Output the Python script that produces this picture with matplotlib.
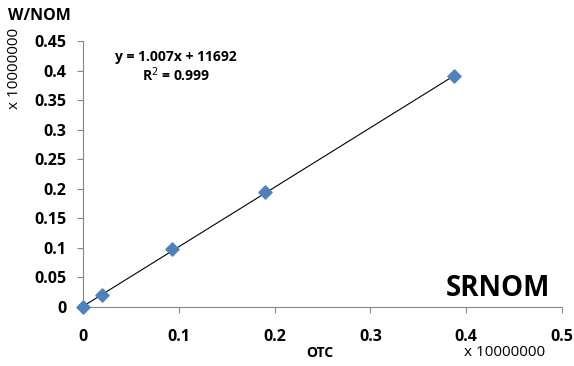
import matplotlib.pyplot as plt
import numpy as np

# OTC vs W/NOM (display units of 1e7)
otc = [0.0, 0.02, 0.093, 0.19, 0.387]
wnom = [0.0, 0.020, 0.098, 0.195, 0.391]
slope = 1.007
intercept = 11692 / 1e7
r2 = 0.999
xticks = [0, 0.1, 0.2, 0.3, 0.4, 0.5]
yticks = [0, 0.05, 0.1, 0.15, 0.2, 0.25, 0.3, 0.35, 0.4, 0.45]

plt.rcParams['font.family'] = ['Open Sans', 'DejaVu Sans']

fig = plt.figure(figsize=(5.74, 3.66), dpi=100)
ax = fig.add_axes([0.1446, 0.1612, 0.8344, 0.7268])

# linear trendline
xl = np.array([min(otc), max(otc)])
ax.plot(xl, slope * xl + intercept, color='black', lw=0.8, zorder=2)
ax.scatter(otc, wnom, marker='D', s=45, color='#4F81BD', edgecolors='#4F81BD',
           zorder=3, clip_on=False)

ax.set_xlim(0, 0.5)
ax.set_ylim(0, 0.45)
ax.set_xticks(xticks)
ax.set_yticks(yticks)
ax.set_xticklabels([f'{t:g}' for t in xticks])
ax.set_yticklabels([f'{t:g}' for t in yticks])
for s in ['top', 'right']:
    ax.spines[s].set_visible(False)
for s in ['left', 'bottom']:
    ax.spines[s].set_color('#868686')
    ax.spines[s].set_linewidth(0.8)
ax.tick_params(direction='out', length=4, color='#868686', labelsize=11.5, width=0.8)
for lab in ax.get_xticklabels() + ax.get_yticklabels():
    lab.set_fontweight('bold')
ax.tick_params(axis='x', pad=12)
ax.tick_params(axis='y', pad=8)

fig.text(8 / 574, 1 - 16 / 366, 'W/NOM', fontsize=11.5, fontweight='bold', va='center', ha='left')
fig.text(15 / 574, 1 - 68 / 366, 'x 10000000', fontsize=11, rotation=90, va='center', ha='center')
fig.text(505 / 574, 1 - 353 / 366, 'x 10000000', fontsize=11, va='center', ha='center')
fig.text(320 / 574, 1 - 353 / 366, 'OTC', fontsize=10, fontweight='bold', va='center', ha='center')
fig.text(176 / 574, 1 - 57 / 366, f'y = {slope}x + {intercept * 1e7:.0f}', fontsize=10,
         fontweight='bold', va='center', ha='center')
fig.text(176 / 574, 1 - 75 / 366, f'R$^2$ = {r2}', fontsize=10, fontweight='bold',
         va='center', ha='center')
fig.text(498 / 574, 1 - 288 / 366, 'SRNOM', fontsize=20, fontweight='bold', va='center', ha='center')

fig.savefig('out.png', dpi=100)
